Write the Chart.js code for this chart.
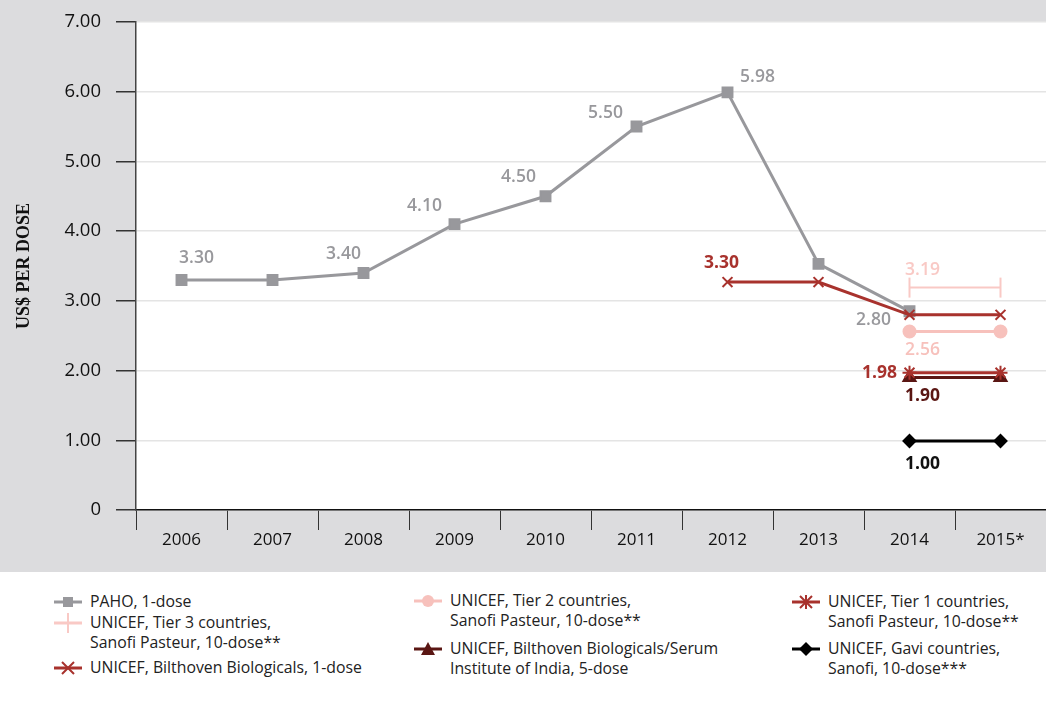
<!DOCTYPE html>
<html lang="en">
<head>
<meta charset="UTF-8">
<title>US$ per dose</title>
<style>
  body {
    margin: 0;
    background: #fff;
    font-family: 'Open Sans', sans-serif;
  }
  #chart-box {
    position: relative;
    width: 1046px;
    height: 572px;
    background: #dcdcde;
  }
  #legend {
    position: relative;
    width: 1046px;
    height: 130px;
    font-size: 15.8px;
    color: #222;
  }
  .item {
    position: absolute;
    line-height: 19.5px;
    padding-left: 38px;
    white-space: nowrap;
  }
  .item svg {
    position: absolute;
    left: 0;
    top: 0;
  }
</style>
<script src="https://cdn.jsdelivr.net/npm/chart.js@4.4.1/dist/chart.umd.min.js"></script>
</head>
<body>
<div id="chart-box">
  <canvas id="priceChart"></canvas>
</div>
<div id="legend"></div>

<script>
// values
const years = ['2006', '2007', '2008', '2009', '2010', '2011', '2012', '2013', '2014', '2015*'];
const yTicks = [0, 1, 2, 3, 4, 5, 6, 7];

const paho       = [3.30, 3.30, 3.40, 4.10, 4.50, 5.50, 5.99, 3.53, 2.85, null];
const bilthoven1 = [null, null, null, null, null, null, 3.27, 3.27, 2.80, 2.80];
const tier3      = [null, null, null, null, null, null, null, null, 3.19, 3.19];
const tier2      = [null, null, null, null, null, null, null, null, 2.56, 2.56];
const tier1      = [null, null, null, null, null, null, null, null, 1.97, 1.97];
const serum5     = [null, null, null, null, null, null, null, null, 1.90, 1.90];
const gavi       = [null, null, null, null, null, null, null, null, 0.99, 0.99];

// printed labels (text as in the picture)
const pahoText   = ['3.30', null, '3.40', '4.10', '4.50', '5.50', '5.98', null, '2.80', null];
const bilt1Text  = [null, null, null, null, null, null, '3.30', null, null, null];
const tier3Text  = [null, null, null, null, null, null, null, null, '3.19', null];
const tier2Text  = [null, null, null, null, null, null, null, null, '2.56', null];
const tier1Text  = [null, null, null, null, null, null, null, null, '1.98', null];
const serum5Text = [null, null, null, null, null, null, null, null, '1.90', null];
const gaviText   = [null, null, null, null, null, null, null, null, '1.00', null];

const GRAY = '#98989c';
const RED = '#a8322d';
const PINK3 = '#f9c9c5';
const PINK2 = '#f7c1bc';
const DARK = '#5a1613';
const BLACK = '#000000';

// label offsets from the point (dx, dy), per index
const pahoOffsets = {0: [15, -22], 2: [-20, -19], 3: [-30, -18], 4: [-27, -19], 5: [-31, -14], 6: [30, -15], 8: [-36, 9]};

// draws the value labels next to the points
const valueLabels = {
  id: 'valueLabels',
  afterDatasetsDraw(chart) {
    const ctx = chart.ctx;
    ctx.save();
    ctx.textAlign = 'center';
    ctx.textBaseline = 'middle';
    chart.data.datasets.forEach((ds, i) => {
      if (!ds.labelText) return;
      const meta = chart.getDatasetMeta(i);
      ds.labelText.forEach((txt, j) => {
        if (!txt) return;
        const pt = meta.data[j];
        const off = (ds.labelOffsets && ds.labelOffsets[j]) || ds.labelOffset;
        ctx.font = (ds.labelWeight || '600') + ' 17.5px "Open Sans", sans-serif';
        ctx.fillStyle = ds.labelColor;
        ctx.fillText(txt, pt.x + off[0], pt.y + off[1]);
      });
    });
    ctx.restore();
  }
};

// grey page behind, white plot area
const background = {
  id: 'background',
  beforeDraw(chart) {
    const {ctx, chartArea} = chart;
    ctx.save();
    ctx.fillStyle = '#dcdcde';
    ctx.fillRect(0, 0, chart.width, chart.height);
    ctx.fillStyle = '#ffffff';
    ctx.fillRect(chartArea.left, chartArea.top, chartArea.right - chartArea.left, chartArea.bottom - chartArea.top);
    ctx.restore();
  }
};

function series(label, data, color, style, radius, extra) {
  return Object.assign({
    label: label,
    data: data,
    borderColor: color,
    backgroundColor: color,
    pointBackgroundColor: color,
    pointBorderColor: color,
    borderWidth: 3,
    pointStyle: style,
    pointRadius: radius,
    pointHoverRadius: radius,
    pointBorderWidth: 2,
    fill: false,
    tension: 0,
    spanGaps: false
  }, extra || {});
}

const datasets = [
  series('UNICEF, Gavi countries, Sanofi, 10-dose***', gavi, BLACK, 'rectRot', 6,
    {labelText: gaviText, labelColor: '#111', labelOffset: [13, 23], labelWeight: 'bold', order: 1}),
  series('UNICEF, Tier 1 countries, Sanofi Pasteur, 10-dose**', tier1, RED, 'star', 7,
    {labelText: tier1Text, labelColor: RED, labelOffset: [-30, 0], labelWeight: 'bold', order: 2}),
  series('UNICEF, Bilthoven Biologicals/Serum Institute of India, 5-dose', serum5, DARK, 'triangle', 7,
    {labelText: serum5Text, labelColor: DARK, labelOffset: [13, 18], labelWeight: 'bold', order: 3}),
  series('UNICEF, Tier 2 countries, Sanofi Pasteur, 10-dose**', tier2, PINK2, 'circle', 6,
    {labelText: tier2Text, labelColor: PINK2, labelOffset: [13, 18], order: 4}),
  series('UNICEF, Tier 3 countries, Sanofi Pasteur, 10-dose**', tier3, PINK3, 'line', 10,
    {labelText: tier3Text, labelColor: PINK3, labelOffset: [13, -18], pointRotation: 90, borderWidth: 2, order: 5}),
  series('UNICEF, Bilthoven Biologicals, 1-dose', bilthoven1, RED, 'crossRot', 7,
    {labelText: bilt1Text, labelColor: RED, labelOffset: [-6, -19], labelWeight: 'bold', order: 6}),
  series('PAHO, 1-dose', paho, GRAY, 'rect', 7,
    {labelText: pahoText, labelColor: GRAY, labelOffsets: pahoOffsets, order: 10})
];

const ctx = document.getElementById('priceChart').getContext('2d');
const priceChart = new Chart(ctx, {
  type: 'line',
  data: { labels: years, datasets: datasets },
  options: {
    responsive: true,
    maintainAspectRatio: false,
    animation: false,
    layout: { autoPadding: false, padding: { top: 22, right: 0, left: 0, bottom: 0 } },
    plugins: {
      legend: { display: false },
      tooltip: { enabled: false }
    },
    scales: {
      x: {
        offset: true,
        afterFit: s => { s.height = 62; s.paddingRight = 0; s.paddingLeft = 0; },
        grid: { drawOnChartArea: false, tickLength: 20, tickColor: '#333', offset: true, tickWidth: 1 },
        border: { color: '#111', width: 1.5 },
        ticks: { color: '#111', padding: 0, font: { family: '"Open Sans", sans-serif', size: 17 } }
      },
      y: {
        min: 0,
        max: 7,
        afterFit: s => { s.width = 136; s.paddingTop = 0; s.paddingBottom = 0; },
        afterBuildTicks: s => { s.ticks = yTicks.map(v => ({ value: v })); },
        grid: { color: '#e4e4e4', lineWidth: 1.5, tickLength: 20, tickColor: '#333', tickWidth: 1.5 },
        border: { color: '#444', width: 1.5 },
        ticks: {
          color: '#111',
          padding: 15,
          font: { family: '"Open Sans", sans-serif', size: 18.5 },
          callback: v => v === 0 ? '0' : v.toFixed(2)
        },
        title: {
          display: true,
          text: 'US$ PER DOSE',
          color: '#111',
          padding: { top: 14, bottom: 0 },
          font: { family: '"Liberation Serif", serif', size: 18, weight: 'bold' }
        }
      }
    }
  },
  plugins: [background, valueLabels]
});

// html legend, three columns like the original
const legendItems = [
  { text: 'PAHO, 1-dose', color: GRAY, mark: 'rect', x: 52, y: 592 },
  { text: 'UNICEF, Tier 3 countries,<br>Sanofi Pasteur, 10-dose**', color: PINK3, mark: 'vline', x: 52, y: 613 },
  { text: 'UNICEF, Bilthoven Biologicals, 1-dose', color: RED, mark: 'cross', x: 52, y: 658 },
  { text: 'UNICEF, Tier 2 countries,<br>Sanofi Pasteur, 10-dose**', color: PINK2, mark: 'circle', x: 412, y: 591 },
  { text: 'UNICEF, Bilthoven Biologicals/Serum<br>Institute of India, 5-dose', color: DARK, mark: 'triangle', x: 412, y: 639 },
  { text: 'UNICEF, Tier 1 countries,<br>Sanofi Pasteur, 10-dose**', color: RED, mark: 'star', x: 790, y: 592 },
  { text: 'UNICEF, Gavi countries,<br>Sanofi, 10-dose***', color: BLACK, mark: 'diamond', x: 790, y: 639 }
];

function markSvg(mark, c) {
  const line = `<line x1="2" y1="10" x2="30" y2="10" stroke="${c}" stroke-width="3"/>`;
  let m = '';
  if (mark === 'rect') m = `<rect x="11" y="5" width="10" height="10" fill="${c}"/>`;
  if (mark === 'vline') m = `<line x1="16" y1="0" x2="16" y2="20" stroke="${c}" stroke-width="2"/>`;
  if (mark === 'cross') m = `<path d="M10 4 L22 16 M22 4 L10 16" stroke="${c}" stroke-width="2"/>`;
  if (mark === 'circle') m = `<circle cx="16" cy="10" r="6" fill="${c}"/>`;
  if (mark === 'triangle') m = `<path d="M16 3 L23 16 L9 16 Z" fill="${c}"/>`;
  if (mark === 'star') m = `<path d="M16 3 L16 17 M10 4 L22 16 M22 4 L10 16" stroke="${c}" stroke-width="2"/>`;
  if (mark === 'diamond') m = `<path d="M16 3 L23 10 L16 17 L9 10 Z" fill="${c}"/>`;
  return `<svg width="32" height="20">${line}${m}</svg>`;
}

const legend = document.getElementById('legend');
legendItems.forEach(it => {
  const d = document.createElement('div');
  d.className = 'item';
  d.style.left = it.x + 'px';
  d.style.top = (it.y - 572) + 'px';
  d.innerHTML = markSvg(it.mark, it.color) + it.text;
  legend.appendChild(d);
});
</script>
</body>
</html>
